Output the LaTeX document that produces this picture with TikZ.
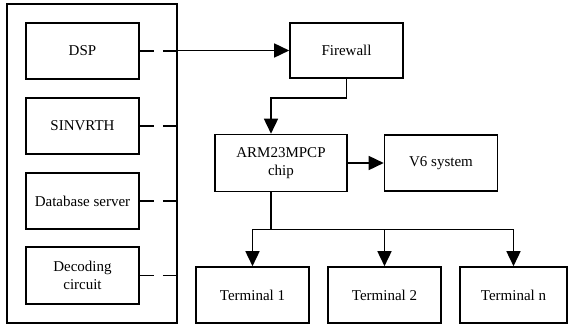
\documentclass[tikz,border=0pt]{standalone}
\usepackage{fontspec}
\setmainfont{Liberation Serif}
\usetikzlibrary{arrows.meta,calc}
\begin{document}
\begin{tikzpicture}[x=1pt, y=-1pt, line width=1.6pt, >={Triangle[length=15pt,width=14pt]}]

\tikzstyle{every node}=[font=\fontsize{15}{18}\selectfont];
\tikzstyle{box}=[draw, minimum width=113pt, minimum height=56pt, inner sep=2pt, align=center];
\tikzstyle{dashlink}=[dash pattern=on 14pt off 9pt];

\useasboundingbox (0,0) rectangle (568,327);

\node[draw, minimum width=170pt, minimum height=319pt] (panel) at (92,163.5) {};
\node[box] (dsp) at (82.5,51) {DSP};
\node[box] (sinvrth) at (82.5,126) {SINVRTH};
\node[box] (db) at (82.5,201) {Database server};
\node[box, minimum height=57pt] (dec) at (82.5,275.5) {Decoding\\circuit};

\node[box, minimum height=55pt] (firewall) at (346.5,50.5) {Firewall};
\node[box, minimum width=132pt, minimum height=57pt] (arm) at (281,163) {ARM23MPCP\\chip};
\node[box] (v6) at (441,163) {V6 system};

\node[box] (t1) at (252.5,295) {Terminal 1};
\node[box] (t2) at (384.5,295) {Terminal 2};
\node[box, minimum width=107pt] (tn) at (513.5,295) {Terminal n};

\foreach \b in {dsp,sinvrth,db,dec}
  \draw[dashlink] (\b.east) -- (\b.east -| panel.east);

\draw[->] (firewall.west -| panel.east) -- (firewall.west);

\coordinate (armin) at ($(arm.north)+(-10,0)$);
\coordinate (armout) at ($(arm.south)+(-10,0)$);
\draw[->] (firewall.south) -- ++(0,19) -| (armin);
\draw[->] (arm.east) -- (v6.west);

\coordinate (bus) at ($(armout)+(0,37)$);
\draw (armout) -- (bus);
\draw (t1.north |- bus) -- (tn.north |- bus);
\foreach \t in {t1,t2,tn}
  \draw[->] (\t.north |- bus) -- (\t.north);
\end{tikzpicture}
\end{document}
